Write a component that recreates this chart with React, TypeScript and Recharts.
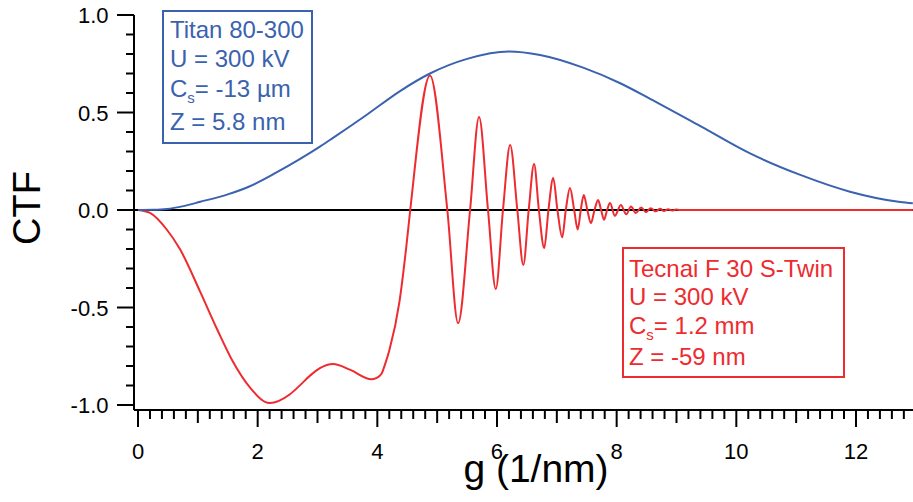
import React from "react";
import { LineChart, Line, XAxis, YAxis, ReferenceLine } from "recharts";

// Titan 80-300 (blue)
const titanG = [0, 0.25, 0.48, 0.76, 1.04, 1.5, 1.87, 2.3, 2.71, 3.04, 3.26, 3.83, 4.38, 4.88, 5.5, 6.2, 6.72, 7.44, 8.06, 8.56, 9.4, 10.23, 11.07, 11.9, 12.74, 12.95];
const titanCtf = [0, 0.001, 0.005, 0.02, 0.042, 0.08, 0.122, 0.19, 0.262, 0.325, 0.37, 0.49, 0.61, 0.7, 0.775, 0.813, 0.795, 0.73, 0.65, 0.57, 0.43, 0.29, 0.18, 0.094, 0.041, 0.034];

// Tecnai F 30 S-Twin (red)
const tecnaiG = [
  0, 0.2, 0.48, 0.7, 1.04, 1.32, 1.59, 1.87, 2.2, 2.54, 2.71, 2.88, 3.04, 3.26, 3.55, 3.9, 3.98, 4.07, 4.13, 4.2, 4.37, 4.48, 4.55,
  4.88, 5.17, 5.35, 5.55, 5.7, 5.85, 5.98, 6.1, 6.22, 6.34, 6.44, 6.53, 6.62, 6.7, 6.79, 6.86, 6.94, 7.01,
  7.09, 7.15, 7.22, 7.29, 7.35, 7.4, 7.45, 7.51, 7.57, 7.63, 7.69, 7.74, 7.79, 7.84, 7.89, 7.97, 8.07, 8.16,
  8.24, 8.32, 8.41, 8.49, 8.57, 8.65, 8.73, 8.79, 8.86, 8.93, 8.99, 9.06, 12.95,
];
const tecnaiCtf = [
  0, -0.015, -0.1, -0.2, -0.42, -0.61, -0.78, -0.91, -0.99, -0.945, -0.898, -0.848, -0.811, -0.79, -0.82, -0.868, -0.862, -0.84, -0.79, -0.72, -0.47, -0.2, 0,
  0.69, 0, -0.58, 0, 0.477, 0, -0.405, 0, 0.333, 0, -0.282, 0, 0.236, 0, -0.195, 0, 0.164, 0,
  -0.14, 0, 0.113, 0, -0.1, 0, 0.077, 0, -0.067, 0, 0.051, 0, -0.05, 0, 0.036, -0.03, 0.026, -0.022,
  0.018, -0.015, 0.013, -0.011, 0.009, -0.007, 0.006, -0.005, 0.004, -0.003, 0.002, 0, 0,
];

const yTicks = [-1.0, -0.9, -0.8, -0.7, -0.6, -0.5, -0.4, -0.3, -0.2, -0.1, 0, 0.1, 0.2, 0.3, 0.4, 0.5, 0.6, 0.7, 0.8, 0.9, 1.0];
const xTicks = Array.from({ length: 65 }, (_, i) => Math.round(i * 2) / 10);

const titanLines = ["Titan 80-300", "U = 300 kV", "Cs= -13 µm", "Z = 5.8 nm"];
const tecnaiLines = ["Tecnai F 30 S-Twin", "U = 300 kV", "Cs= 1.2 mm", "Z = -59 nm"];

const BLUE = "#3a62ae";
const RED = "#ee2b2f";
const FONT = "'Liberation Sans', Arial, sans-serif";

const titanData = titanG.map((g, i) => ({ g, v: titanCtf[i] }));
const tecnaiData = tecnaiG.map((g, i) => ({ g, v: tecnaiCtf[i] }));

const near = (a: number, b: number) => Math.abs(a - b) < 1e-6;

const XTick = (props: any) => {
  const { x, y, payload } = props;
  const v = payload.value;
  const even = near(v / 2, Math.round(v / 2));
  const odd = !even && near(v, Math.round(v));
  const len = even ? 17 : odd ? 13 : 9;
  return (
    <g>
      <line x1={x} x2={x} y1={y} y2={y + len} stroke="#000" strokeWidth={2} />
      {even && (
        <text x={x} y={y + 49} textAnchor="middle" fontSize={22} fontFamily={FONT} fill="#000">
          {String(Math.round(v))}
        </text>
      )}
    </g>
  );
};

const YTick = (props: any) => {
  const { x, y, payload } = props;
  const v = payload.value;
  const major = near(v * 2, Math.round(v * 2));
  return (
    <g>
      <line x1={x - (major ? 17 : 8)} x2={x} y1={y} y2={y} stroke="#000" strokeWidth={2} />
      {major && (
        <text x={x - 25.5} y={y + 8} textAnchor="end" fontSize={22} fontFamily={FONT} fill="#000">
          {v.toFixed(1)}
        </text>
      )}
    </g>
  );
};

// one legend line, with "Cs" written as C + subscript s
const LegendLine = ({ x, y, text, color }: { x: number; y: number; text: string; color: string }) => {
  if (text.startsWith("Cs")) {
    return (
      <text x={x} y={y} fontSize={24} fontFamily={FONT} fill={color}>
        C
        <tspan fontSize={15} dy={6}>s</tspan>
        <tspan dy={-6}>{text.slice(2)}</tspan>
      </text>
    );
  }
  return (
    <text x={x} y={y} fontSize={24} fontFamily={FONT} fill={color}>
      {text}
    </text>
  );
};

export default function App() {
  return (
    <div style={{ position: "absolute", left: 0, top: 0, width: 913, height: 502, background: "#fff" }}>
      <LineChart width={913} height={502} margin={{ top: 15, right: 0, bottom: 0, left: 0 }}>
        <XAxis
          type="number"
          dataKey="g"
          domain={[-0.0669, 12.953]}
          allowDataOverflow
          ticks={xTicks}
          interval={0}
          height={92}
          tickSize={0}
          tickMargin={0}
          tickLine={false}
          axisLine={{ stroke: "#000", strokeWidth: 2 }}
          tick={<XTick />}
        />
        <YAxis
          type="number"
          dataKey="v"
          domain={[-1.0256, 1.0]}
          allowDataOverflow
          ticks={yTicks}
          interval={0}
          width={134}
          tickSize={0}
          tickMargin={0}
          tickLine={false}
          axisLine={{ stroke: "#000", strokeWidth: 2 }}
          tick={<YTick />}
        />
        <ReferenceLine y={0} stroke="#000" strokeWidth={2} />
        <Line data={tecnaiData} dataKey="v" type="monotone" stroke={RED} strokeWidth={2} dot={false} activeDot={false} isAnimationActive={false} />
        <Line data={titanData} dataKey="v" type="monotone" stroke={BLUE} strokeWidth={2} dot={false} activeDot={false} isAnimationActive={false} />
      </LineChart>
      <svg width={913} height={502} style={{ position: "absolute", left: 0, top: 0, pointerEvents: "none" }}>
        <text x={40} y={208} transform="rotate(-90 40 208)" textAnchor="middle" fontSize={38} fontFamily={FONT} fill="#000">
          CTF
        </text>
        <text x={536} y={482} textAnchor="middle" fontSize={39} fontFamily={FONT} fill="#000">
          g (1/nm)
        </text>
        <rect x={163} y={11} width={149} height={132} fill="#fff" stroke={BLUE} strokeWidth={2} />
        {titanLines.map((t, i) => (
          <LegendLine key={t} x={170} y={[38, 67, 97, 130][i]} text={t} color={BLUE} />
        ))}
        <rect x={623} y={248} width={221} height={129} fill="#fff" stroke={RED} strokeWidth={2} />
        {tecnaiLines.map((t, i) => (
          <LegendLine key={t} x={629} y={[277, 305, 334, 365][i]} text={t} color={RED} />
        ))}
      </svg>
    </div>
  );
}
